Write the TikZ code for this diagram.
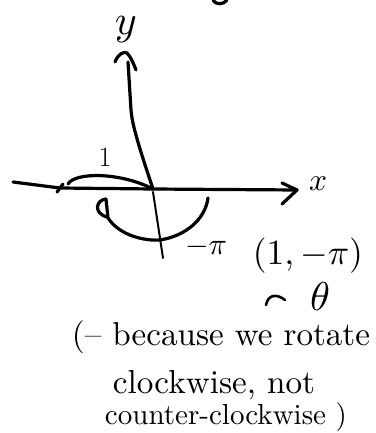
\documentclass[tikz,border=0pt]{standalone}
\usepackage{fix-cm}
\usepackage{fontspec}
\usepackage{graphicx}
\usetikzlibrary{arrows.meta}
\tikzset{
  ink/.style={line width=3.2pt, line cap=round, line join=round},
  thin ink/.style={line width=2pt, line cap=round},
  txt/.style={inner sep=0pt},
}
\newcommand{\fsz}[1]{\fontsize{#1}{#1}\selectfont}
\newcommand{\fitw}[2]{\resizebox{#1pt}{!}{#2}}
\begin{document}
\begin{tikzpicture}[x=1pt,y=-1pt]
\useasboundingbox (0,0) rectangle (375,433);
% coordinates
\coordinate (O) at (153,189);
\coordinate (xl) at (13,182);
\coordinate (xr) at (297,190);
\coordinate (yt) at (128,62);
\coordinate (tick) at (60,188);
\coordinate (arcL) at (68,184);
\coordinate (sL) at (106,199);
\coordinate (sR) at (208,198);
\coordinate (vt) at (153,192);
\coordinate (vb) at (163,258);
\coordinate (hatL) at (266,305);
\coordinate (hatR) at (285,300);
% fragment at top
\draw[ink] (213,0) .. controls (215,5) and (224,5) .. (227,0);
% axes
\draw[ink] (xl) -- (tick) -- (O) -- (xr);
\draw[ink] (282,183) -- (xr) -- (282,204);
\draw[ink] (O) .. controls (140,150) and (132,125) .. (131,110) -- (yt);
\draw[ink] (115,62) .. controls (118,54) and (124,51) .. (127,53) .. controls (130,56) and (133,62) .. (136,70);
\draw[ink] (57,192) -- (63,184);
% arc of length 1
\draw[ink] (arcL) .. controls (75,172) and (120,172) .. (O);
% lower semicircle with loop
\draw[ink] (sL) .. controls (96,200) and (93,213) .. (107,217);
\draw[ink] (sL) -- (108,218) .. controls (120,236) and (145,241) .. (160,240)
  .. controls (185,236) and (205,220) .. (sR);
\draw[thin ink] (vt) -- (vb);
% small arc mark under the point
\draw[thin ink, line width=2.6pt] (hatL) .. controls (268,295) and (276,293) .. (hatR);
% labels
\node[txt] (ylab) at (126,30) {\fitw{22}{$y$}};
\node[txt] (xlab) at (318,184) {\fitw{18}{$x$}};
\node[txt, font=\fsz{28}] (one) at (105,157) {$1$};
\node[txt] (mpi) at (206,247) {\fitw{42}{$-\pi$}};
\node[txt] (pt) at (308,256) {\fitw{110}{$(1,-\pi)$}};
\node[txt] (theta) at (320,297) {\fitw{20}{$\theta$}};
\node[txt] (l1) at (221,337) {\fitw{298}{(– because we rotate}};
\node[txt] (l2) at (214,385) {\fitw{202}{clockwise, not}};
\node[txt] (l3) at (226,417) {\fitw{242}{counter-clockwise )}};
\end{tikzpicture}
\end{document}
